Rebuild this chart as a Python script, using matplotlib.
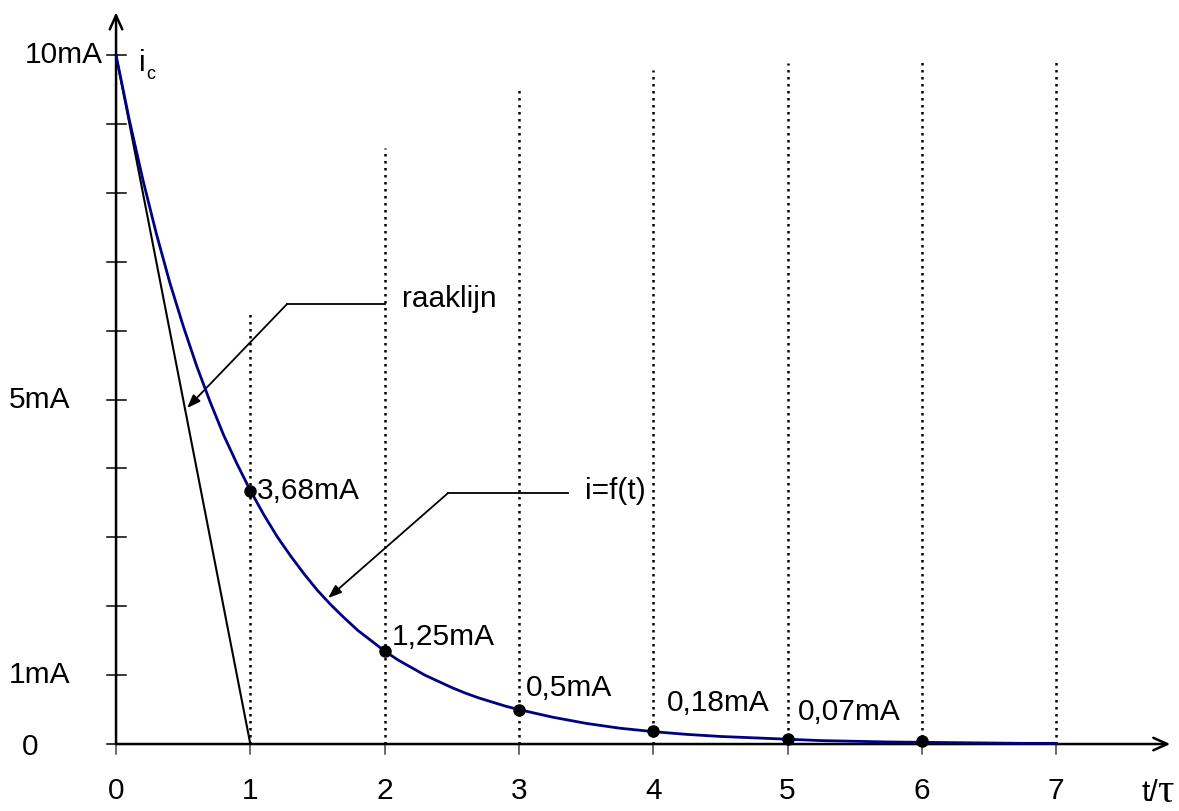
import matplotlib.pyplot as plt

plt.rcParams['font.family'] = ['Liberation Sans', 'DejaVu Sans']

# curve i = f(t) (t in units of tau, i in mA)
curve_t = [0, 0.1, 0.2, 0.3, 0.4, 0.5, 0.6, 0.7, 0.8, 0.9, 1.0,
           1.1, 1.2, 1.3, 1.4, 1.5, 1.6, 1.7, 1.8, 1.9, 2.0,
           2.1, 2.2, 2.3, 2.4, 2.5, 2.6, 2.7, 2.8, 2.9, 3.0,
           3.25, 3.5, 3.75, 4.0, 4.25, 4.5, 4.75, 5.0, 5.25, 5.5, 5.75,
           6.0, 6.25, 6.5, 6.75, 7.0]
curve_i = [10, 9.05, 8.19, 7.41, 6.70, 6.07, 5.49, 4.97, 4.49, 4.07, 3.68,
           3.33, 3.01, 2.73, 2.47, 2.23, 2.02, 1.83, 1.65, 1.50, 1.35,
           1.22, 1.11, 1.00, 0.91, 0.82, 0.74, 0.67, 0.61, 0.55, 0.50,
           0.39, 0.30, 0.23, 0.18, 0.14, 0.11, 0.09, 0.07, 0.05, 0.04, 0.03,
           0.025, 0.02, 0.015, 0.01, 0.01]

# marked points and their labels
point_t = [1, 2, 3, 4, 5, 6]
point_i = [3.68, 1.35, 0.5, 0.19, 0.08, 0.04]
point_labels = ['3,68mA', '1,25mA', '0,5mA', '0,18mA', '0,07mA', '']

# tangent line at t=0
tangent_t = [0, 1]
tangent_i = [10, 0]

# dotted guide lines and how high they reach
guide_t = [1, 2, 3, 4, 5, 6, 7]
guide_top = [6.30, 8.65, 9.49, 9.78, 9.88, 9.90, 9.92]

x_ticks = [0, 1, 2, 3, 4, 5, 6, 7]
y_ticks = [0, 1, 2, 3, 4, 5, 6, 7, 8, 9, 10]

fig = plt.figure(figsize=(11.79, 8.11), dpi=100)
ax = fig.add_axes([0, 0, 1, 1])
ax.set_xlim(-0.864, 7.915)
ax.set_ylim(-0.972, 10.80)
ax.axis('off')

fs = 21.5

# axes with open arrowheads
ax.annotate('', xy=(0, 10.62), xytext=(0, 0),
            arrowprops=dict(arrowstyle='->,head_length=1.0,head_width=0.45', lw=1.8, color='black',
                            shrinkA=0, shrinkB=0))
ax.annotate('', xy=(7.85, 0), xytext=(0, 0),
            arrowprops=dict(arrowstyle='->,head_length=1.0,head_width=0.45', lw=1.8, color='black',
                            shrinkA=0, shrinkB=0))

# ticks
for yt in y_ticks:
    ax.plot([-0.067, 0.074], [yt, yt], color='black', lw=1.1, zorder=2)
for xt in x_ticks:
    ax.plot([xt, xt], [0, -0.145], color='#444444', lw=1.1, zorder=2)

# dotted guides
for gt, top in zip(guide_t, guide_top):
    ax.plot([gt, gt], [0, top], color='black', lw=1.8, linestyle=(0, (1.0, 1.8)), zorder=1)

# tangent and curve
ax.plot(tangent_t, tangent_i, color='black', lw=1.5, zorder=3)
ax.plot(curve_t, curve_i, color='#000080', lw=2, zorder=4)
ax.plot(point_t, point_i, 'o', color='black', markersize=8, zorder=5)

# point labels
label_pos = [(1.05, 3.68), (2.05, 1.55), (3.05, 0.82), (4.1, 0.60), (5.08, 0.46)]
for (lx, ly), txt in zip(label_pos, point_labels):
    ax.text(lx, ly, txt, fontsize=fs, ha='left', va='center')

# x tick labels
for xt in x_ticks:
    ax.text(xt, -0.68, str(xt), fontsize=fs, ha='center', va='center')
ax.text(7.76, -0.71, 't/', fontsize=fs, ha='right', va='center')
ax.text(7.755, -0.70, 'τ', fontsize=fs + 8, ha='left', va='center', family='Liberation Serif')

# y labels
ax.text(-0.10, 10, '10mA', fontsize=fs, ha='right', va='center')
ax.text(-0.80, 5, '5mA', fontsize=fs, ha='left', va='center')
ax.text(-0.80, 1, '1mA', fontsize=fs, ha='left', va='center')
ax.text(-0.64, -0.05, '0', fontsize=fs, ha='center', va='center')
ax.text(0.17, 9.88, 'i', fontsize=fs, ha='left', va='center')
ax.text(0.225, 9.72, 'c', fontsize=13, ha='left', va='center')

# callouts
ax.plot([2.003, 1.273], [6.386, 6.386], color='black', lw=1.3)
ax.annotate('', xy=(0.529, 4.877), xytext=(1.273, 6.386),
            arrowprops=dict(arrowstyle='-|>,head_length=0.8,head_width=0.3', lw=1.3, color='black',
                            shrinkA=0, shrinkB=0))
ax.text(2.13, 6.46, 'raaklijn', fontsize=fs, ha='left', va='center')

ax.plot([3.366, 2.472], [3.643, 3.643], color='black', lw=1.3)
ax.annotate('', xy=(1.579, 2.119), xytext=(2.472, 3.643),
            arrowprops=dict(arrowstyle='-|>,head_length=0.8,head_width=0.3', lw=1.3, color='black',
                            shrinkA=0, shrinkB=0))
ax.text(3.49, 3.67, 'i=f(t)', fontsize=fs, ha='left', va='center')

fig.savefig('out.png', dpi=100)
